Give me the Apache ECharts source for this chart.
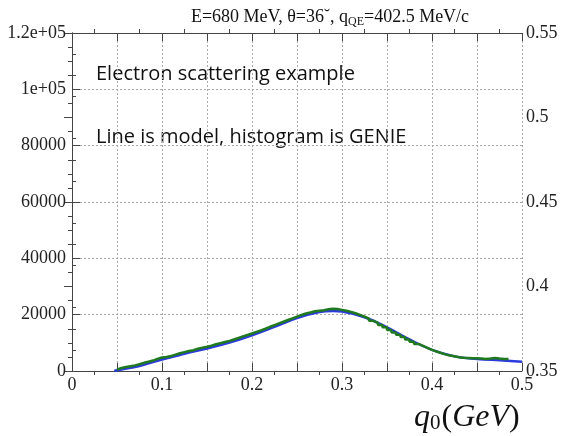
<!DOCTYPE html>
<html>
<head>
<meta charset="utf-8">
<title>q0 spectrum</title>
<script src="https://cdn.jsdelivr.net/npm/echarts@6/dist/echarts.min.js"></script>
<style>
  html, body { margin: 0; padding: 0; background: #fff; }
  #chart { width: 564px; height: 436px; }
</style>
</head>
<body>
<div id="chart"></div>
<script>
// histogram (GENIE), bin left edges every 0.005 GeV starting at 0.05
const histStart = 0.05
const histWidth = 0.005
const histValues = [
  500, 1100, 1400, 1700, 2000, 2400, 2900, 3300, 3700, 4300,
  4800, 5000, 5300, 5800, 6300, 6700, 7100, 7400, 7900, 8300,
  8600, 9000, 9500, 9900, 10300, 10700, 11200, 11700, 12300, 12800,
  13300, 13900, 14400, 15000, 15700, 16300, 16900, 17500, 18100, 18700,
  19300, 19900, 20400, 20800, 21200, 21400, 21600, 21900, 22100, 22000,
  21700, 21400, 21000, 20500, 19900, 19300, 18600, 17800, 17100, 16300,
  15500, 14600, 13700, 12900, 12100, 11200, 10400, 9600, 8900, 8200,
  7500, 6900, 6400, 5900, 5500, 5200, 4900, 4700, 4600, 4500,
  4500, 4400, 4300, 4400, 4600, 4400, 4300
]

// model curve
const modelX = [0.047, 0.05, 0.075, 0.1, 0.125, 0.15, 0.175, 0.2, 0.225, 0.25, 0.275, 0.29, 0.3, 0.325, 0.35, 0.375, 0.4, 0.425, 0.45, 0.475, 0.5]
const modelY = [0, 300, 1800, 4100, 6100, 8000, 10100, 12700, 15700, 18800, 20900, 21300, 21100, 19100, 15500, 11200, 7500, 5200, 4300, 3800, 3300]

const yTickLabels = { 0: '0', 20000: '20000', 40000: '40000', 60000: '60000', 80000: '80000', 100000: '1e+05', 120000: '1.2e+05' }

const SERIF = '"Liberation Serif", "DejaVu Serif", serif'
const AXIS_COLOR = '#444'

const histData = histValues.map((v, i) => [+(histStart + i * histWidth).toFixed(4), v])
histData.push([+(histStart + histValues.length * histWidth).toFixed(4), histValues[histValues.length - 1]])
const modelData = modelX.map((x, i) => [x, modelY[i]])

const chart = echarts.init(document.getElementById('chart'))

// ROOT style: ticks point into the frame (minor ticks ignore `inside`, hence the negative length)
const tickCommon = {
  axisLine: { show: true, lineStyle: { color: AXIS_COLOR, width: 1 } },
  axisTick: { show: true, inside: true, length: 8, lineStyle: { color: AXIS_COLOR } },
  minorTick: { show: true, length: -4, lineStyle: { color: AXIS_COLOR } },
}

chart.setOption({
  animation: false,
  title: {
    text: '{n|E=680 MeV, θ=36˘, q}{s|QE}{n|=402.5 MeV/c}',
    left: 325,
    top: 1,
    textAlign: 'center',
    textStyle: {
      fontWeight: 'normal',
      rich: {
        n: { fontFamily: SERIF, fontSize: 18, fontWeight: 'normal', color: '#111' },
        s: { fontFamily: SERIF, fontSize: 12, fontWeight: 'normal', color: '#111', padding: [10, 0, 0, 0] },
      },
    },
  },
  grid: { left: 72, right: 42, top: 33, bottom: 65 },
  xAxis: [
    {
      type: 'value',
      min: 0,
      max: 0.5,
      interval: 0.05,
      ...tickCommon,
      minorTick: { ...tickCommon.minorTick, splitNumber: 2 },
      axisLabel: {
        margin: 5,
        fontFamily: SERIF,
        fontSize: 18,
        color: '#222',
        formatter: (v) => {
          const r = Math.round(v * 100)
          return r % 10 === 0 ? (r === 0 ? '0' : (r / 100).toString()) : ''
        },
      },
      splitLine: { show: true, lineStyle: { color: '#aaa', type: [2, 2], width: 1 } },
    },
    {
      type: 'value',
      position: 'top',
      min: 0,
      max: 0.5,
      interval: 0.05,
      ...tickCommon,
      minorTick: { ...tickCommon.minorTick, splitNumber: 2 },
      axisLabel: { show: false },
      splitLine: { show: false },
    },
  ],
  yAxis: [
    {
      type: 'value',
      min: 0,
      max: 120000,
      interval: 20000,
      ...tickCommon,
      minorTick: { ...tickCommon.minorTick, splitNumber: 4 },
      axisLabel: {
        margin: 6,
        fontFamily: SERIF,
        fontSize: 18,
        color: '#222',
        formatter: (v) => yTickLabels[v] !== undefined ? yTickLabels[v] : '',
      },
      splitLine: { show: true, lineStyle: { color: '#aaa', type: [2, 2], width: 1 } },
    },
    {
      type: 'value',
      position: 'right',
      min: 0.35,
      max: 0.55,
      interval: 0.05,
      ...tickCommon,
      minorTick: { ...tickCommon.minorTick, splitNumber: 4 },
      axisLabel: {
        margin: 4,
        fontFamily: SERIF,
        fontSize: 18,
        color: '#222',
        formatter: (v) => +v.toFixed(2) + '',
      },
      splitLine: { show: false },
    },
  ],
  series: [
    {
      name: 'model',
      type: 'line',
      smooth: 0.4,
      data: modelData,
      symbol: 'none',
      lineStyle: { color: '#2b3bdc', width: 2.5 },
      z: 3,
    },
    {
      name: 'GENIE',
      type: 'line',
      step: 'start',
      data: histData,
      symbol: 'none',
      lineStyle: { color: '#1f7a1f', width: 2.5 },
      z: 4,
    },
  ],
  graphic: [
    {
      type: 'text',
      left: 96,
      top: 64,
      style: {
        text: 'Electron scattering example',
        font: '20px "Open Sans", sans-serif',
        fill: '#111',
      },
    },
    {
      type: 'text',
      left: 96,
      top: 127,
      style: {
        text: 'Line is model, histogram is GENIE',
        font: '20px "Open Sans", sans-serif',
        fill: '#111',
      },
    },
    {
      type: 'text',
      left: 414,
      top: 402,
      style: {
        text: '{i|q}{s|0}{p|(}{i|GeV}{p|)}',
        rich: {
          i: { fontFamily: SERIF, fontStyle: 'italic', fontSize: 32, fill: '#111' },
          s: { fontFamily: SERIF, fontSize: 21, fill: '#111', padding: [10, 1, 0, 0] },
          p: { fontFamily: SERIF, fontSize: 32, fill: '#111' },
        },
      },
    },
  ],
})
</script>
</body>
</html>
